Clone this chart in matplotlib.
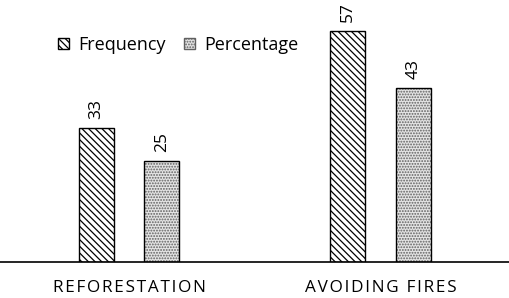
import numpy as np
import matplotlib
matplotlib.use("Agg")
import matplotlib.pyplot as plt
from matplotlib.patches import Patch

plt.rcParams['font.family'] = ['Open Sans', 'DejaVu Sans']
plt.rcParams['hatch.linewidth'] = 0.9

categories = ["REFORESTATION", "AVOIDING FIRES"]
frequency = [33, 57]
percentage = [25, 43]

x = np.arange(len(categories))
w = 0.14
off = 0.13

fig = plt.figure(figsize=(5.1, 2.98), dpi=100)
ax = fig.add_axes([0, 0.121, 1, 0.879])

# frequency bars: dense diagonal hatching
ax.bar(x - off, frequency, w, color="white", edgecolor="black", hatch="\\\\\\\\\\", linewidth=1)
# percentage bars: grey with dots (hatch drawn grey, outline black on top)
ax.bar(x + off, percentage, w, color="#e4e4e4", edgecolor="#606060", hatch="......", linewidth=0)
ax.bar(x + off, percentage, w, color="none", edgecolor="black", linewidth=1)

for xi, v in zip(x - off, frequency):
    ax.text(xi, v + 2.2, str(v), rotation=90, ha="center", va="bottom", fontsize=12.5)
for xi, v in zip(x + off, percentage):
    ax.text(xi, v + 2.2, str(v), rotation=90, ha="center", va="bottom", fontsize=12.5)

# wide letter spacing like the original
spaced = ["\u200a".join(c) for c in categories]

ax.set_xlim(-0.513, 1.515)
ax.set_ylim(0, 64.7)
ax.set_xticks(x)
ax.set_xticklabels(spaced, fontsize=12.3)
ax.tick_params(axis="x", length=0, pad=13)
ax.set_yticks([])
for s in ["top", "left", "right"]:
    ax.spines[s].set_visible(False)
ax.spines["bottom"].set_linewidth(1.2)

handles = [Patch(facecolor="white", edgecolor="black", hatch="\\\\\\\\\\"),
           Patch(facecolor="#e4e4e4", edgecolor="#606060", hatch="......")]
ax.legend(handles, ["Frequency", "Percentage"], loc="upper left", bbox_to_anchor=(0.082, 0.925),
          ncol=2, frameon=False, fontsize=13, handlelength=0.6, handleheight=0.6,
          handletextpad=0.5, columnspacing=1.05)

fig.savefig("out.png", dpi=100)
